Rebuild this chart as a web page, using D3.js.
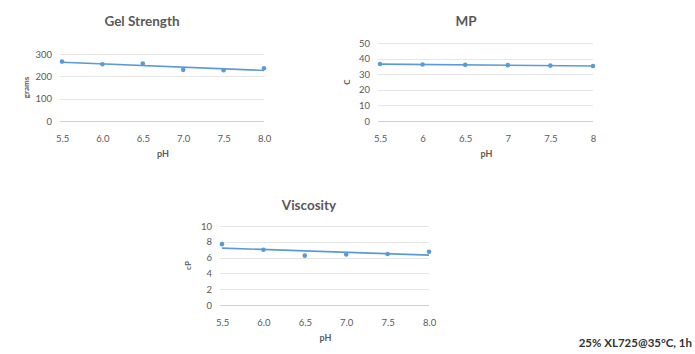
<!DOCTYPE html>
<html>
<head>
<meta charset="utf-8">
<script src="https://cdn.jsdelivr.net/npm/d3@7"></script>
<style>
  body { margin: 0; background: #fff; }
  svg text { font-family: Lato, "Liberation Sans", sans-serif; fill: #595959; }
</style>
</head>
<body>
<svg id="chart" width="695" height="354"></svg>
<script>
// pH categories shared by all three panels
const phLabels = ['5.5', '6.0', '6.5', '7.0', '7.5', '8.0'];
const phLabelsMP = ['5.5', '6', '6.5', '7', '7.5', '8'];
const phValues = [5.5, 6.0, 6.5, 7.0, 7.5, 8.0];

// measured values
const gelStrength = [266, 254, 257, 229, 227, 236];
const meltingPoint = [36.5, 36.2, 36.0, 35.8, 35.5, 35.3];
const viscosity = [7.7, 7.0, 6.25, 6.4, 6.45, 6.75];

const gelTicks = [0, 100, 200, 300];
const mpTicks = [0, 10, 20, 30, 40, 50];
const viscTicks = [0, 2, 4, 6, 8, 10];

const blue = '#5b9bd5';
const svg = d3.select('#chart');

// least squares trendline like Excel's "Linear" trendline
function fit(xs, ys) {
  const mx = d3.mean(xs), my = d3.mean(ys);
  const sxy = d3.sum(xs, (x, i) => (x - mx) * (ys[i] - my));
  const sxx = d3.sum(xs, x => (x - mx) * (x - mx));
  const b = sxy / sxx;
  return x => my + b * (x - mx);
}

function panel(cfg) {
  const g = svg.append('g');

  const x = d3.scalePoint().domain(cfg.labels).range([cfg.left, cfg.right]);
  const y = d3.scaleLinear().domain([0, d3.max(cfg.ticks)]).range([cfg.bottom, cfg.top]);

  // gridlines
  g.selectAll('.grid')
    .data(cfg.ticks)
    .enter().append('line')
    .attr('x1', cfg.left - 2)
    .attr('x2', cfg.right)
    .attr('y1', d => Math.round(y(d)) + 0.5)
    .attr('y2', d => Math.round(y(d)) + 0.5)
    .attr('stroke', d => d === 0 ? '#d0d0d0' : '#e6e6e6')
    .attr('stroke-width', 1);

  // y axis labels
  const ya = g.append('g')
    .attr('transform', `translate(${cfg.left - 4},0)`)
    .call(d3.axisLeft(y).tickValues(cfg.ticks).tickSize(0).tickPadding(6));
  ya.select('.domain').remove();
  ya.selectAll('text').attr('font-size', 9.5).attr('fill', '#595959');

  // x axis labels
  const xa = g.append('g')
    .attr('transform', `translate(0,${cfg.bottom + 8})`)
    .call(d3.axisBottom(x).tickSize(0).tickPadding(6));
  xa.select('.domain').remove();
  xa.selectAll('text').attr('font-size', 9.5).attr('fill', '#595959');

  // trendline
  const f = fit(phValues, cfg.values);
  g.append('line')
    .attr('x1', x(cfg.labels[0]))
    .attr('x2', x(cfg.labels[cfg.labels.length - 1]))
    .attr('y1', y(f(phValues[0])))
    .attr('y2', y(f(phValues[phValues.length - 1])))
    .attr('stroke', blue)
    .attr('stroke-width', 1.6);

  // markers
  g.selectAll('.dot')
    .data(cfg.values)
    .enter().append('circle')
    .attr('cx', (d, i) => x(cfg.labels[i]))
    .attr('cy', d => y(d))
    .attr('r', 2.3)
    .attr('fill', blue);

  // title
  g.append('text')
    .attr('x', cfg.titleX)
    .attr('y', cfg.titleY)
    .attr('text-anchor', 'middle')
    .attr('font-size', 13.5)
    .attr('font-weight', 'bold')
    .text(cfg.title);

  // x axis title
  g.append('text')
    .attr('x', (cfg.left + cfg.right) / 2)
    .attr('y', cfg.bottom + 36)
    .attr('text-anchor', 'middle')
    .attr('font-size', 9)
    .attr('font-weight', 'bold')
    .text('pH');

  // y axis title
  g.append('text')
    .attr('transform', `translate(${cfg.yTitleX},${(cfg.top + cfg.bottom) / 2}) rotate(-90)`)
    .attr('text-anchor', 'middle')
    .attr('font-size', 8)
    .attr('font-weight', 'bold')
    .text(cfg.yTitle);
}

panel({
  title: 'Gel Strength', titleX: 142, titleY: 26,
  labels: phLabels, values: gelStrength, ticks: gelTicks,
  left: 62, right: 264, top: 54, bottom: 121,
  yTitle: 'grams', yTitleX: 29
});

panel({
  title: 'MP', titleX: 466, titleY: 26,
  labels: phLabelsMP, values: meltingPoint, ticks: mpTicks,
  left: 380, right: 593, top: 43, bottom: 121,
  yTitle: 'C', yTitleX: 350
});

panel({
  title: 'Viscosity', titleX: 309, titleY: 210,
  labels: phLabels, values: viscosity, ticks: viscTicks,
  left: 222, right: 429, top: 226, bottom: 305,
  yTitle: 'cP', yTitleX: 191
});

svg.append('text')
  .attr('x', 692)
  .attr('y', 347)
  .attr('text-anchor', 'end')
  .attr('font-size', 11.5)
  .attr('font-weight', 'bold')
  .style('fill', '#333')
  .text('25% XL725@35°C, 1h');
</script>
</body>
</html>
